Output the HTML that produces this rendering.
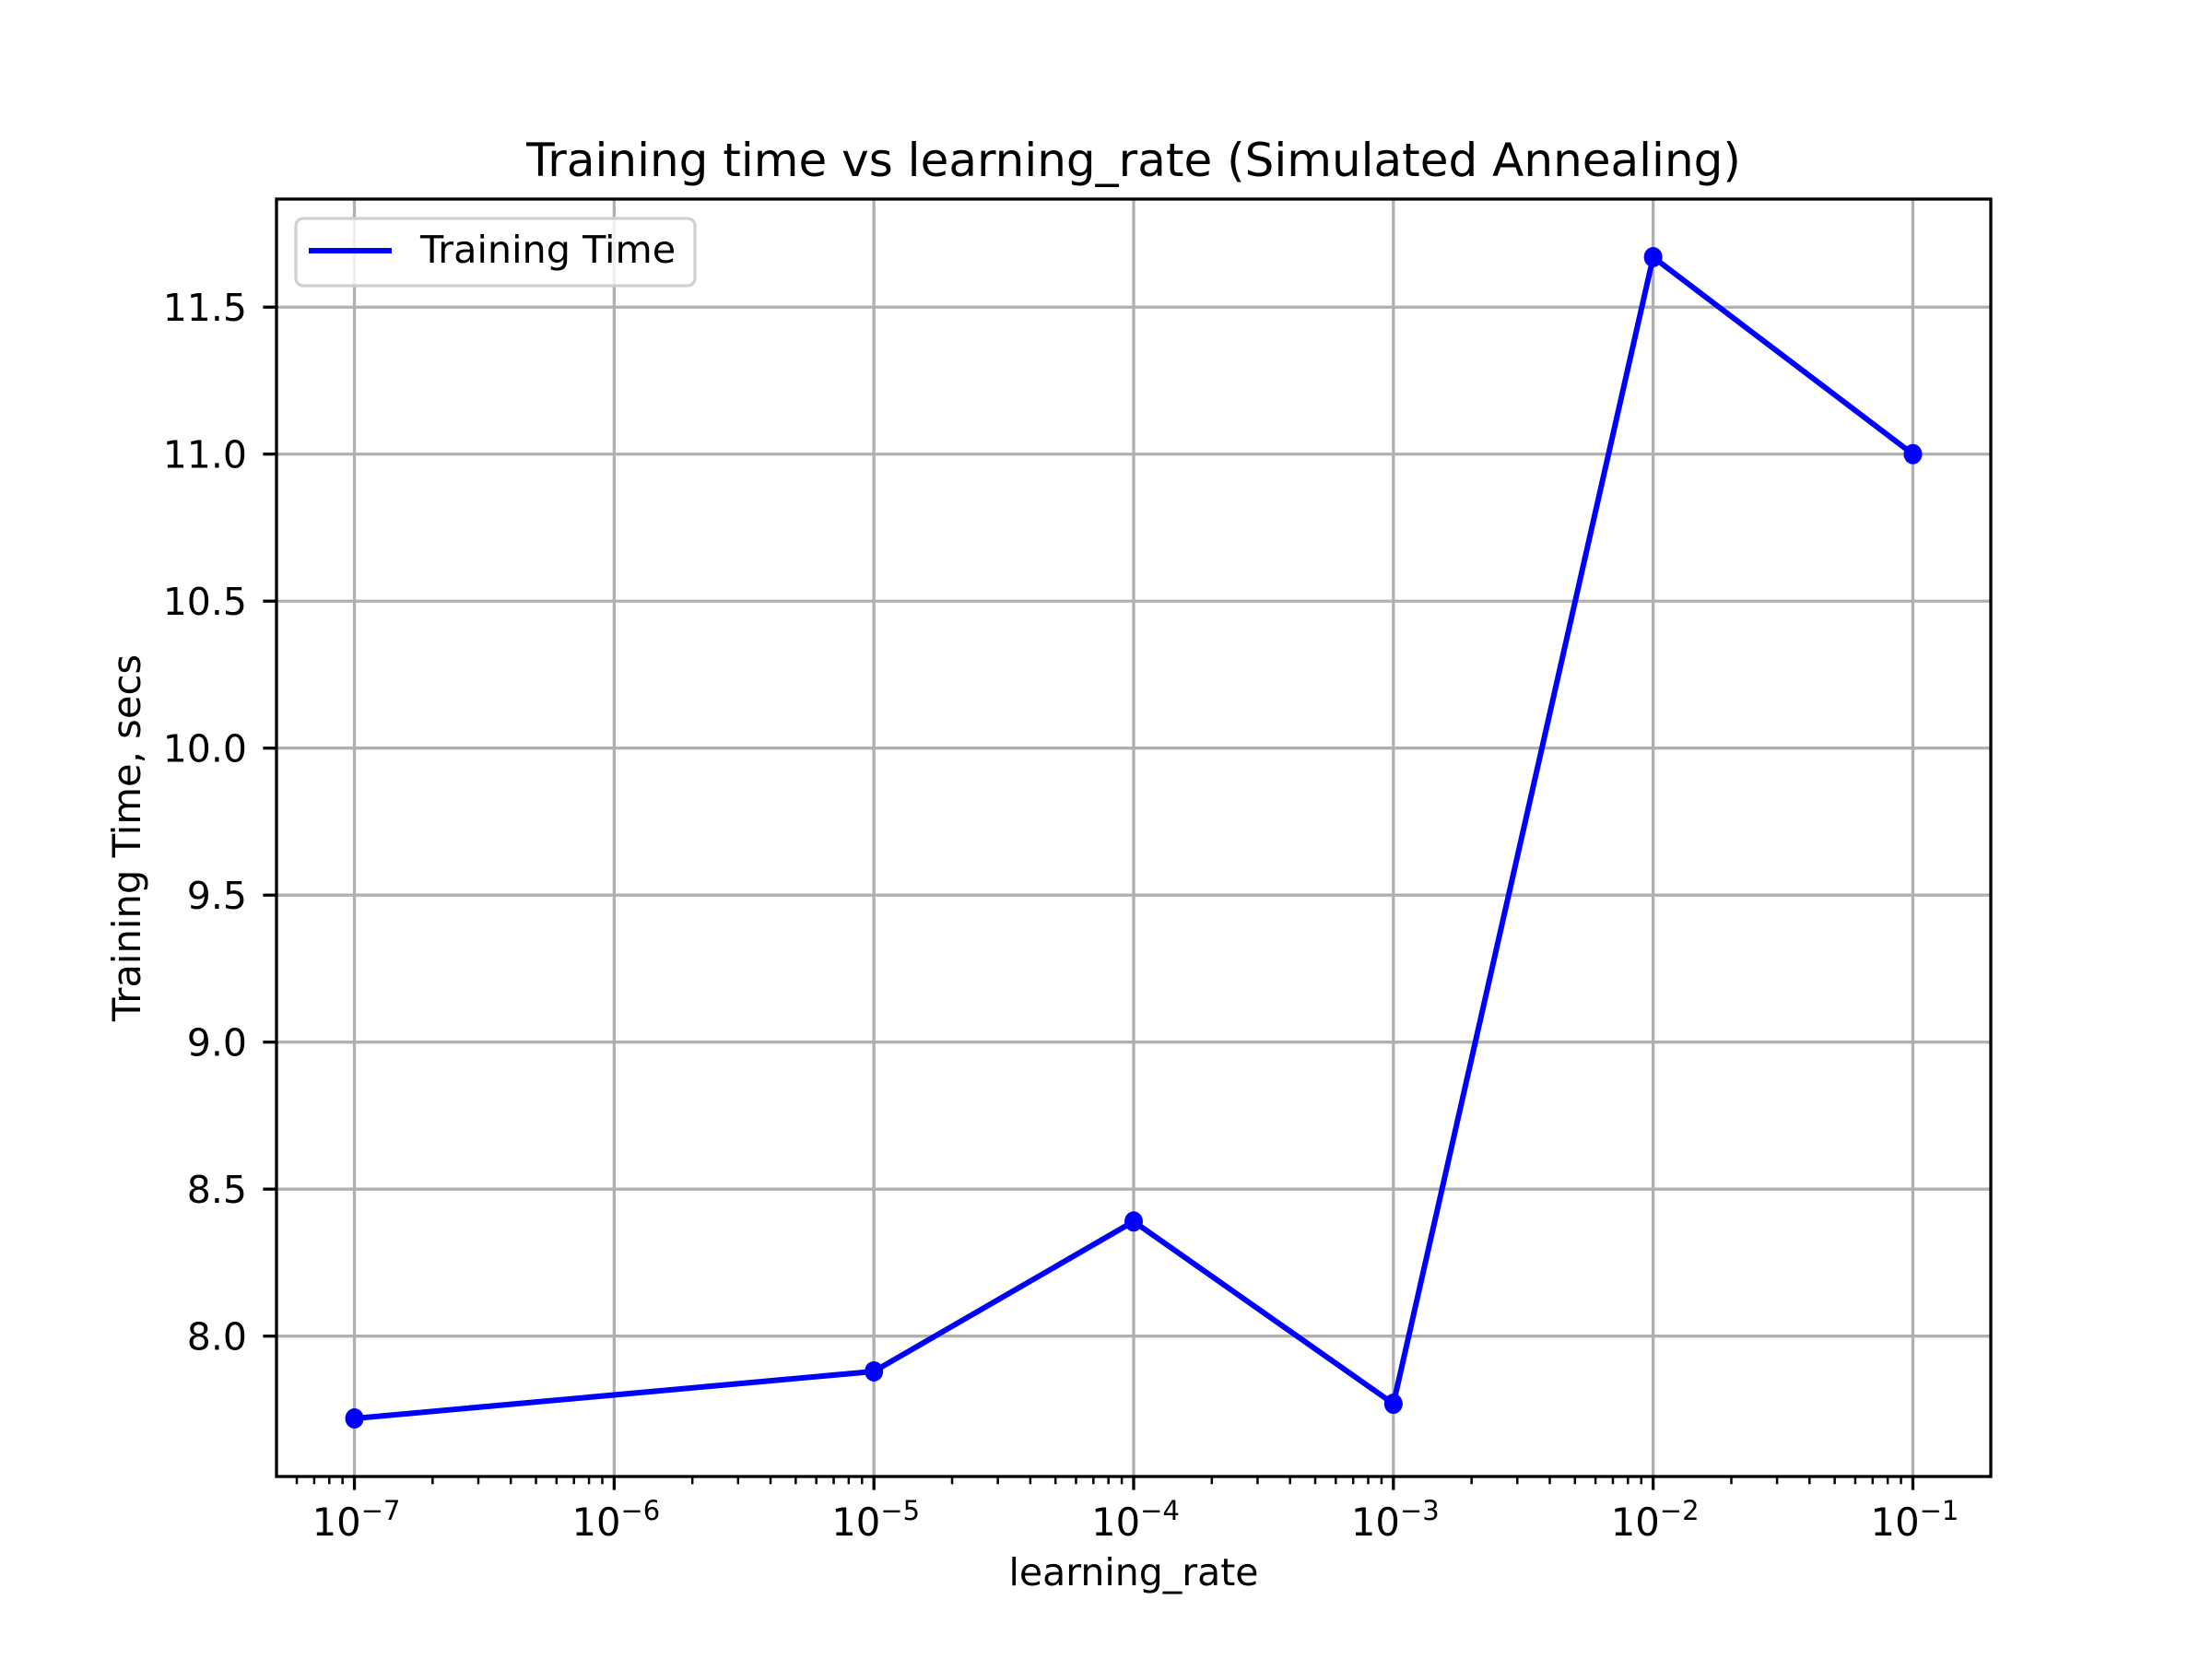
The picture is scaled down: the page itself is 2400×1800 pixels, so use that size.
<!DOCTYPE html>
<html><head><meta charset="utf-8"><style>
html,body{margin:0;padding:0;background:#fff;}
svg{display:block;font-family:"DejaVu Sans","Liberation Sans",sans-serif;}
</style></head><body>
<svg id="chart" width="2400" height="1800" viewBox="0 0 2400 1800" xmlns="http://www.w3.org/2000/svg">
<rect width="2400" height="1800" fill="#fff"/>
<text x="1230" y="191" font-size="50" text-anchor="middle">Training time vs learning_rate (Simulated Annealing)</text>
<text x="1230" y="1720" font-size="41" text-anchor="middle">learning_rate</text>
<text transform="translate(152,909) rotate(-90)" font-size="41.7" text-anchor="middle">Training Time, secs</text>
<g id="grid"></g>
<g id="series"></g>
<g id="axes"></g>
<g id="legend"></g>
</svg>
<script>
const categories = [-7, -5, -4, -3, -2, -1]; // log10 learning rate
const trainingTime = [7.72, 7.88, 8.39, 7.77, 11.67, 11.0];
const xTickExps = [-7, -6, -5, -4, -3, -2, -1];
const yTicks = [8.0, 8.5, 9.0, 9.5, 10.0, 10.5, 11.0, 11.5];
const yTickLabels = ["8.0","8.5","9.0","9.5","10.0","10.5","11.0","11.5"];

const NS = "http://www.w3.org/2000/svg";
const L = 300, R = 2160, T = 216, B = 1602;
const xmin = Math.min(...categories), xmax = Math.max(...categories);
const xm = (xmax - xmin) * 0.05;
const ymin = Math.min(...trainingTime), ymax = Math.max(...trainingTime);
const ym = (ymax - ymin) * 0.05;
const x0 = xmin - xm, x1 = xmax + xm, y0 = ymin - ym, y1 = ymax + ym;
const xs = e => L + (e - x0) / (x1 - x0) * (R - L);
const ys = v => B - (v - y0) / (y1 - y0) * (B - T);
function mk(tag, attrs, parent) {
  const el = document.createElementNS(NS, tag);
  for (const k in attrs) el.setAttribute(k, attrs[k]);
  parent.appendChild(el);
  return el;
}
const grid = document.getElementById('grid');
const axes = document.getElementById('axes');
const series = document.getElementById('series');
const legend = document.getElementById('legend');

xTickExps.forEach(e => {
  const x = xs(e);
  const g = mk('line', {x1: x, x2: x, y1: T, y2: B, stroke: '#b0b0b0', 'stroke-width': 3.3}, grid);
  
  
  const t = mk('line', {x1: x, x2: x, y1: B, y2: B + 14.6, stroke: '#000', 'stroke-width': 3.3}, axes);
  
  
  const lbl = mk('text', {x: x + 2, y: 1666, 'font-size': 41.7, 'text-anchor': 'middle'}, axes);
  
  
  lbl.textContent = '10';
  const sup = mk('tspan', {dy: -17, 'font-size': 29}, lbl);
  sup.textContent = '\u2212' + Math.abs(e);
});
// minor ticks
for (let d = Math.floor(x0); d <= Math.ceil(x1); d++) {
  for (let m = 2; m <= 9; m++) {
    const e = d + Math.log10(m);
    if (e < x0 || e > x1) continue;
    const x = xs(e);
    const mt = mk('line', {x1: x, x2: x, y1: B, y2: B + 8.3, stroke: '#000', 'stroke-width': 2.5}, axes);
    
    
  }
}
yTicks.forEach((v, i) => {
  const y = ys(v);
  const g = mk('line', {x1: L, x2: R, y1: y, y2: y, stroke: '#b0b0b0', 'stroke-width': 3.3}, grid);
  
  
  const t = mk('line', {x1: L - 14.6, x2: L, y1: y, y2: y, stroke: '#000', 'stroke-width': 3.3}, axes);
  
  
  const lbl = mk('text', {x: 268, y: y + 15, 'font-size': 41, 'text-anchor': 'end'}, axes);
  
  
  lbl.textContent = yTickLabels[i];
});
const frame = mk('rect', {x: L, y: T, width: R - L, height: B - T, fill: 'none', stroke: '#000', 'stroke-width': 3.3}, axes);



const pts = categories.map((e, i) => xs(e) + ',' + ys(trainingTime[i])).join(' ');
const line = mk('polyline', {points: pts, fill: 'none', stroke: '#0000ff', 'stroke-width': 6, 'stroke-linejoin': 'round'}, series);


categories.forEach((e, i) => {
  const c = mk('ellipse', {cx: xs(e), cy: ys(trainingTime[i]), rx: 10, ry: 11, fill: '#0000ff'}, series);
  
  
});

const lb = mk('rect', {x: 321, y: 237, width: 433, height: 73, rx: 8, fill: '#fff', 'fill-opacity': 0.8, stroke: '#d0d0d0', 'stroke-width': 3.3}, legend);


const ll = mk('line', {x1: 335, x2: 425, y1: 272, y2: 272, stroke: '#0000ff', 'stroke-width': 6}, legend);


const lt = mk('text', {x: 456, y: 285, 'font-size': 41.3}, legend);


lt.textContent = 'Training Time';
</script>
</body></html>
